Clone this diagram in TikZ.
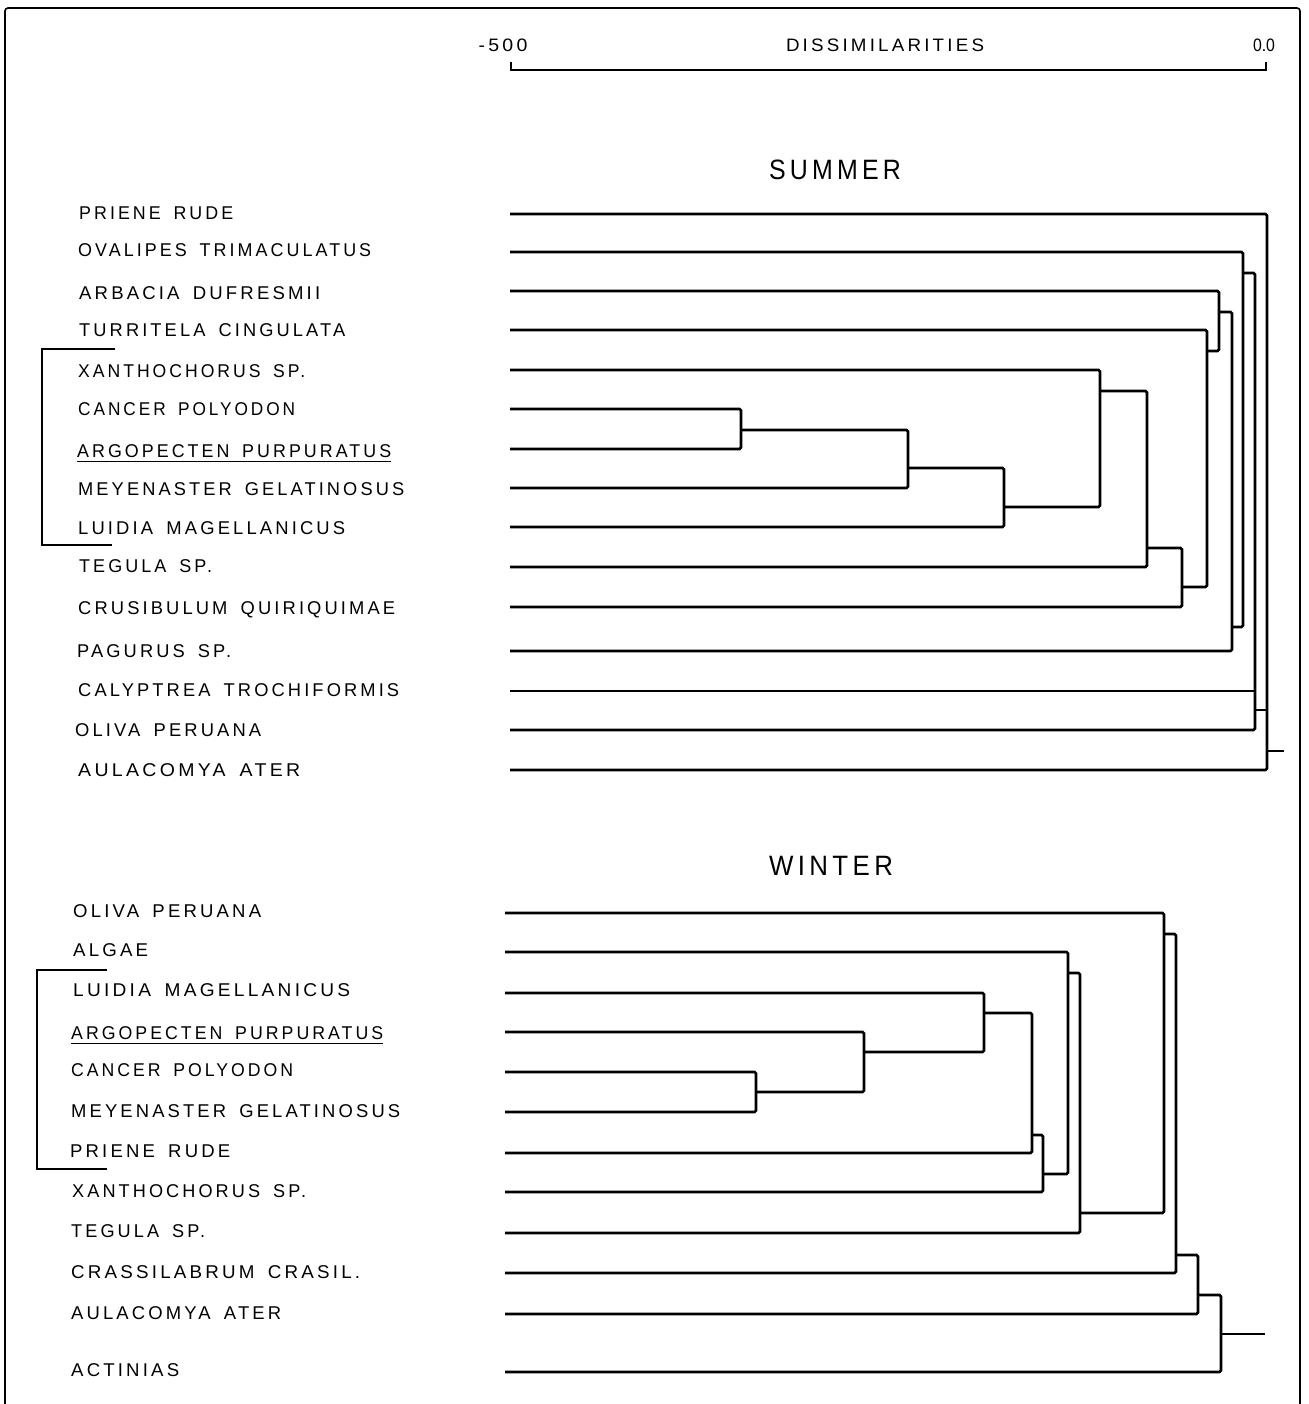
\documentclass[tikz,border=0pt]{standalone}
\usepackage{fontspec}
\usepackage{graphicx}
\newfontfamily\labfont[LetterSpace=17,WordSpace=1.6]{Liberation Sans}
\newfontfamily\numfont{Liberation Sans}
\newsavebox\fitbox
\newcommand\fitw[2]{\sbox\fitbox{#2}\pgfmathsetmacro\fitratio{#1/\the\wd\fitbox}\scalebox{\fitratio}[1]{\usebox\fitbox}}
\tikzset{
  lab/.style={anchor=base west, inner sep=0pt, font={\labfont\fontsize{18.5}{20}\selectfont}},
  hdr/.style={anchor=base, inner sep=0pt, font={\labfont\fontsize{18}{20}\selectfont}},
  ttl/.style={anchor=base, inner sep=0pt, font={\labfont\fontsize{28}{30}\selectfont}},
  br/.style={line width=2.6pt, rounded corners=1.5pt},
  frm/.style={line width=1.6pt, rounded corners=3pt},
  brk/.style={line width=1.4pt},
  uline/.style={line width=1.5pt},
}
\begin{document}
\begin{tikzpicture}[x=1pt,y=-1pt]
\useasboundingbox (0,0) rectangle (1308,1404);
% frame
\coordinate (f1) at (5,1404); \coordinate (f2) at (5,8);
\coordinate (f3) at (1300,8); \coordinate (f4) at (1300,1404);
\draw[frm] (f1) -- (f2) -- (f3) -- (f4);
% scale
\node[hdr] (h1) at (503,52) {\fitw{49}{-\,500}};
\node[hdr] (h2) at (885,52) {\fitw{198}{DISSIMILARITIES}};
\node[hdr, font={\numfont\fontsize{18}{20}\selectfont}] (h3) at (1264,52) {\fitw{22}{0.0}};
\coordinate (sb0) at (511,70); \coordinate (sb1) at (1266,70);
\draw[line width=2.2pt] ([yshift=8pt]sb0) -- (sb0) -- (sb1) -- ([yshift=8pt]sb1);
% titles
\node[ttl] (t1) at (835,180) {\fitw{132}{SUMMER}};
\node[ttl] (t2) at (831,875) {\fitw{124}{WINTER}};
% summer labels
\node[lab] (ls1) at (79,219.7) {\fitw{154}{PRIENE RUDE}};
\node[lab] (ls2) at (78,256.7) {\fitw{293}{OVALIPES TRIMACULATUS}};
\node[lab] (ls3) at (79,299.7) {\fitw{241}{ARBACIA DUFRESMII}};
\node[lab] (ls4) at (79,336.7) {\fitw{266}{TURRITELA CINGULATA}};
\node[lab] (ls5) at (78,377.7) {\fitw{227}{XANTHOCHORUS SP.}};
\node[lab] (ls6) at (78,415.7) {\fitw{217}{CANCER POLYODON}};
\node[lab] (ls7) at (77,457.7) {\fitw{314}{ARGOPECTEN PURPURATUS}};
\node[lab] (ls8) at (78,495.7) {\fitw{326}{MEYENASTER GELATINOSUS}};
\node[lab] (ls9) at (78,534.7) {\fitw{267}{LUIDIA MAGELLANICUS}};
\node[lab] (ls10) at (79,572.7) {\fitw{133}{TEGULA SP.}};
\node[lab] (ls11) at (78,614.7) {\fitw{317}{CRUSIBULUM QUIRIQUIMAE}};
\node[lab] (ls12) at (77,657.7) {\fitw{154}{PAGURUS SP.}};
\node[lab] (ls13) at (78,696.7) {\fitw{321}{CALYPTREA TROCHIFORMIS}};
\node[lab] (ls14) at (75,736.7) {\fitw{186}{OLIVA PERUANA}};
\node[lab] (ls15) at (78,776.7) {\fitw{222}{AULACOMYA ATER}};
\draw[uline] ([yshift=-4pt]ls7.base west) -- ([yshift=-4pt]ls7.base east);
% summer bracket
\coordinate (bs1) at (115,349); \coordinate (bs2) at (42,349);
\coordinate (bs3) at (42,545); \coordinate (bs4) at (112,545);
\draw[brk] (bs1) -- (bs2) -- (bs3) -- (bs4);
% winter labels
\node[lab] (lw1) at (73,917.7) {\fitw{188}{OLIVA PERUANA}};
\node[lab] (lw2) at (73,956.7) {\fitw{75}{ALGAE}};
\node[lab] (lw3) at (73,996.7) {\fitw{277}{LUIDIA MAGELLANICUS}};
\node[lab] (lw4) at (71,1039.7) {\fitw{312}{ARGOPECTEN PURPURATUS}};
\node[lab] (lw5) at (71,1076.7) {\fitw{222}{CANCER POLYODON}};
\node[lab] (lw6) at (71,1117.7) {\fitw{329}{MEYENASTER GELATINOSUS}};
\node[lab] (lw7) at (70,1157.7) {\fitw{160}{PRIENE RUDE}};
\node[lab] (lw8) at (72,1197.7) {\fitw{234}{XANTHOCHORUS SP.}};
\node[lab] (lw9) at (71,1237.7) {\fitw{134}{TEGULA SP.}};
\node[lab] (lw10) at (71,1278.7) {\fitw{289}{CRASSILABRUM CRASIL.}};
\node[lab] (lw11) at (71,1319.7) {\fitw{210}{AULACOMYA ATER}};
\node[lab] (lw12) at (71,1376.7) {\fitw{108}{ACTINIAS}};
\draw[uline] ([yshift=-4pt]lw4.base west) -- ([yshift=-4pt]lw4.base east);
% winter bracket
\coordinate (bw1) at (107,970); \coordinate (bw2) at (37,970);
\coordinate (bw3) at (37,1169); \coordinate (bw4) at (107,1169);
\draw[brk] (bw1) -- (bw2) -- (bw3) -- (bw4);
% summer dendrogram
\foreach \n/\yy in {1/214,2/252,3/291,4/330,5/370,6/409,7/449,8/488,9/527,10/567,11/607,12/651,13/691,14/730,15/770}
  \coordinate (s\n) at (510,\yy);
\coordinate (sA) at (741,430);
\coordinate (sB) at (908,468);
\coordinate (sC) at (1004,507);
\coordinate (sD) at (1100,391);
\coordinate (sE) at (1147,548);
\coordinate (sF) at (1182,587);
\coordinate (sG) at (1207,351);
\coordinate (sH) at (1219,312);
\coordinate (sI) at (1232,627);
\coordinate (sJ) at (1243,273);
\coordinate (sK) at (1255,710);
\coordinate (sL) at (1267,751);
\coordinate (sR) at (1284,751);
\draw[br] (s6) -| (sA) |- (s7);
\draw[br] (sA) -| (sB) |- (s8);
\draw[br] (sB) -| (sC) |- (s9);
\draw[br] (s5) -| (sD) |- (sC);
\draw[br] (sD) -| (sE) |- (s10);
\draw[br] (sE) -| (sF) |- (s11);
\draw[br] (s4) -| (sG) |- (sF);
\draw[br] (s3) -| (sH) |- (sG);
\draw[br] (sH) -| (sI) |- (s12);
\draw[br] (s2) -| (sJ) |- (sI);
\draw[br] (sJ) -| (sK) |- (s14);
\draw[br] (s13) -- (sK |- s13);
\draw[br] (s1) -| (sL) |- (s15);
\draw[br] (sK) -- (sL |- sK);
\draw[br] (sL) -- (sR);
% winter dendrogram
\foreach \n/\yy in {1/913,2/952,3/993,4/1032,5/1072,6/1112,7/1153,8/1192,9/1233,10/1273,11/1314,12/1372}
  \coordinate (w\n) at (505,\yy);
\coordinate (nA) at (756,1092);
\coordinate (nB) at (864,1052);
\coordinate (nC) at (984,1013);
\coordinate (nD) at (1032,1135);
\coordinate (nE) at (1043,1174);
\coordinate (nF) at (1068,973);
\coordinate (nG) at (1080,1213);
\coordinate (nH) at (1164,934);
\coordinate (nI) at (1176,1255);
\coordinate (nJ) at (1198,1295);
\coordinate (nK) at (1221,1334);
\coordinate (nR) at (1265,1334);
\draw[br] (w5) -| (nA) |- (w6);
\draw[br] (w4) -| (nB) |- (nA);
\draw[br] (w3) -| (nC) |- (nB);
\draw[br] (nC) -| (nD) |- (w7);
\draw[br] (nD) -| (nE) |- (w8);
\draw[br] (w2) -| (nF) |- (nE);
\draw[br] (nF) -| (nG) |- (w9);
\draw[br] (w1) -| (nH) |- (nG);
\draw[br] (nH) -| (nI) |- (w10);
\draw[br] (nI) -| (nJ) |- (w11);
\draw[br] (nJ) -| (nK) |- (w12);
\draw[br] (nK) -- (nR);
\end{tikzpicture}
\end{document}
